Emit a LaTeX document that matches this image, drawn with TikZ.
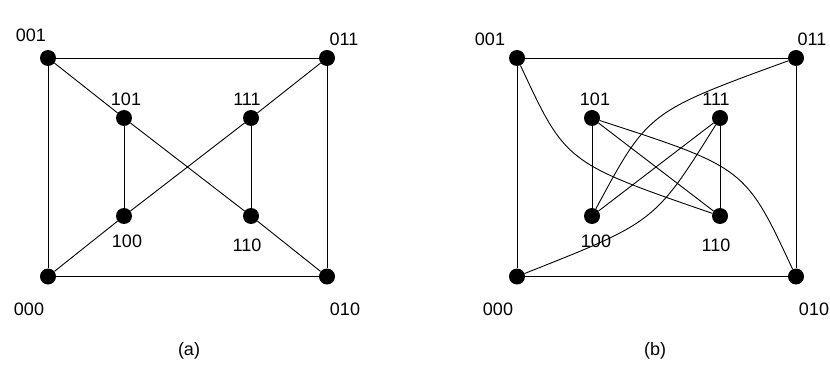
\documentclass[tikz,border=0pt]{standalone}
\usepackage{fontspec}
\setmainfont{Liberation Sans}
\usepackage{tikz}
\usetikzlibrary{positioning}

\begin{document}
\begin{tikzpicture}[x=1pt, y=1pt,
    vertex/.style={circle, fill=black, draw=none, minimum size=16pt, inner sep=0pt},
    vlabel/.style={font=\fontsize{18}{21}\selectfont, inner sep=0pt},
    edge/.style={line width=0.9pt, black}
]
    \useasboundingbox (0,0) rectangle (830,370);

    % (a) straight drawing
    \node[vertex] (a001) at (48,312) {};
    \node[vertex] (a011) at (327,312) {};
    \node[vertex] (a000) at (48,93.5) {};
    \node[vertex] (a010) at (327,93.5) {};
    \node[vertex] (a101) at (124,252) {};
    \node[vertex] (a111) at (251,252) {};
    \node[vertex] (a100) at (124,154) {};
    \node[vertex] (a110) at (251,154) {};

    \node[vlabel] (la001) at (31,335) {001};
    \node[vlabel] (la011) at (344,331) {011};
    \node[vlabel] (la101) at (126,271) {101};
    \node[vlabel] (la111) at (247,271) {111};
    \node[vlabel] (la100) at (127,129) {100};
    \node[vlabel] (la110) at (247,125) {110};
    \node[vlabel] (la000) at (29,61) {000};
    \node[vlabel] (la010) at (345,61) {010};
    \node[vlabel] (capa) at (189,19) {(a)};

    \draw[edge] (a001) -- (a011);
    \draw[edge] (a011) -- (a010);
    \draw[edge] (a010) -- (a000);
    \draw[edge] (a000) -- (a001);
    \draw[edge] (a001) -- (a101);
    \draw[edge] (a011) -- (a111);
    \draw[edge] (a000) -- (a100);
    \draw[edge] (a010) -- (a110);
    \draw[edge] (a101) -- (a100);
    \draw[edge] (a111) -- (a110);
    \draw[edge] (a101) -- (a110);
    \draw[edge] (a100) -- (a111);

    % (b) drawing with curved edges
    \node[vertex] (b001) at (517,312) {};
    \node[vertex] (b011) at (796,312) {};
    \node[vertex] (b000) at (517,93.5) {};
    \node[vertex] (b010) at (796,93.5) {};
    \node[vertex] (b101) at (592,252) {};
    \node[vertex] (b111) at (720,252) {};
    \node[vertex] (b100) at (592,154) {};
    \node[vertex] (b110) at (720,154) {};

    \node[vlabel] (lb001) at (490,331) {001};
    \node[vlabel] (lb011) at (812,331) {011};
    \node[vlabel] (lb101) at (595,271) {101};
    \node[vlabel] (lb111) at (716,271) {111};
    \node[vlabel] (lb100) at (596,129) {100};
    \node[vlabel] (lb110) at (716,125) {110};
    \node[vlabel] (lb000) at (498,61) {000};
    \node[vlabel] (lb010) at (814,61) {010};
    \node[vlabel] (capb) at (655,19) {(b)};

    \draw[edge] (b001) -- (b011);
    \draw[edge] (b011) -- (b010);
    \draw[edge] (b010) -- (b000);
    \draw[edge] (b000) -- (b001);
    \draw[edge] (b101) -- (b100);
    \draw[edge] (b111) -- (b110);
    \draw[edge] (b101) -- (b110);
    \draw[edge] (b100) -- (b111);
    \draw[edge] (b001) .. controls +(-65:115) and +(161:164) .. (b110);
    \draw[edge] (b101) .. controls +(-18:161) and +(115:120) .. (b010);
    \draw[edge] (b000) .. controls +(21.6:148) and +(238:123) .. (b111);
    \draw[edge] (b100) .. controls +(61.7:118) and +(200:158) .. (b011);
\end{tikzpicture}
\end{document}
